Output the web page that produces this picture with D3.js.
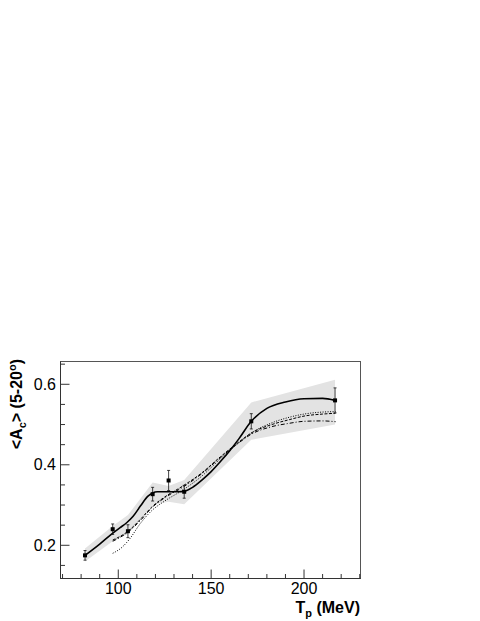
<!DOCTYPE html>
<html><head><meta charset="utf-8">
<script src="https://cdn.jsdelivr.net/npm/d3@7"></script>
<style>body{margin:0;background:#fff}svg{display:block}text{font-family:"Liberation Sans",Arial,sans-serif}</style>
</head><body><svg id="c" width="480" height="621"></svg>
<script>
// Data points
const dataT = [82.1, 97.0, 105.2, 118.5, 127.1, 135.5, 171.6, 216.7];
const dataA = [0.175, 0.240, 0.235, 0.327, 0.361, 0.333, 0.508, 0.560];
const dataErr = [0.012, 0.013, 0.016, 0.017, 0.025, 0.016, 0.019, 0.031];
// Gray band
const bandT = [82.1, 97.0, 105.2, 118.5, 127.1, 135.5, 171.6, 216.7];
const bandLo = [0.160, 0.210, 0.228, 0.301, 0.308, 0.302, 0.462, 0.500];
const bandHi = [0.192, 0.248, 0.275, 0.356, 0.347, 0.362, 0.555, 0.611];
// Solid curve
const solidT = [82.1, 90, 96.4, 101, 104.5, 108, 112, 116, 118.5, 121, 127, 132, 135.5, 140, 145, 150, 155, 160, 165, 171.6, 180, 190, 200, 210, 216.7];
const solidA = [0.175, 0.203, 0.228, 0.244, 0.256, 0.272, 0.298, 0.322, 0.330, 0.333, 0.333, 0.333, 0.334, 0.344, 0.362, 0.383, 0.408, 0.435, 0.465, 0.508, 0.540, 0.556, 0.564, 0.565, 0.560];
// Dashed curve
const dashT = [97, 105, 112, 118, 125, 135, 145, 155, 165, 172, 182, 192, 200, 210, 217];
const dashA = [0.213, 0.234, 0.265, 0.295, 0.320, 0.348, 0.380, 0.420, 0.457, 0.480, 0.499, 0.512, 0.521, 0.526, 0.528];
// Dash-dot curve
const ddT = [97, 105, 112, 118, 125, 135, 145, 155, 165, 172, 182, 192, 200, 210, 217];
const ddA = [0.210, 0.232, 0.262, 0.293, 0.318, 0.345, 0.378, 0.418, 0.455, 0.477, 0.494, 0.503, 0.508, 0.509, 0.507];
// Dotted curve
const dotT = [97, 102, 106, 112, 118, 125, 135, 145, 155, 165, 172, 182, 192, 200, 210, 217];
const dotA = [0.180, 0.195, 0.215, 0.255, 0.286, 0.310, 0.338, 0.372, 0.415, 0.455, 0.480, 0.503, 0.518, 0.526, 0.531, 0.532];
// Ticks
const xMajor = [100, 150, 200];
const xMinor = [70, 80, 90, 110, 120, 130, 140, 160, 170, 180, 190, 210, 220, 230];
const yMajor = [0.2, 0.4, 0.6];
const yMinor = [0.15, 0.25, 0.3, 0.35, 0.45, 0.5, 0.55, 0.65];

const svg = d3.select('#c');
const x = d3.scaleLinear().domain([68.9, 230.4]).range([60.5, 360.5]);
const y = d3.scaleLinear().domain([0.1175, 0.6566]).range([578.5, 361.5]);

// band
const band = bandT.map((t,i)=>({t, lo: bandLo[i], hi: bandHi[i]}));
svg.append('path').datum(band)
  .attr('d', d3.area().x(d=>x(d.t)).y0(d=>y(d.lo)).y1(d=>y(d.hi)))
  .attr('fill', '#e3e3e3');

const line = d3.line().x(d=>x(d[0])).y(d=>y(d[1])).curve(d3.curveMonotoneX);
function drawCurve(T, A, w, dash){
  svg.append('path').datum(T.map((t,i)=>[t, A[i]]))
    .attr('d', line).attr('fill','none').attr('stroke','#000')
    .attr('stroke-width', w).attr('stroke-dasharray', dash);
}
drawCurve(dotT, dotA, 1, '1,1.5');
drawCurve(ddT, ddA, 1, '4,2,1,2');
drawCurve(dashT, dashA, 1, '3,1.5');
drawCurve(solidT, solidA, 1.6, null);

// data
const pts = dataT.map((t,i)=>({t, a: dataA[i], e: dataErr[i]}));
const g = svg.append('g');
pts.forEach(p=>{
  const cx = x(p.t);
  g.append('line').attr('x1',cx).attr('x2',cx).attr('y1',y(p.a-p.e)).attr('y2',y(p.a+p.e)).attr('stroke','#111').attr('stroke-width',0.8);
  [p.a-p.e, p.a+p.e].forEach(v=>g.append('line').attr('x1',cx-1.5).attr('x2',cx+1.5).attr('y1',y(v)).attr('y2',y(v)).attr('stroke','#111').attr('stroke-width',0.8));
  g.append('rect').attr('x',cx-2).attr('y',y(p.a)-2).attr('width',4).attr('height',4).attr('fill','#000');
});

// frame
const [x0,x1] = x.range(), [y0,y1] = y.range();
svg.append('rect').attr('x',x0).attr('y',y1).attr('width',x1-x0).attr('height',y0-y1)
  .attr('fill','none').attr('stroke','#555').attr('stroke-width',1);
svg.append('line').attr('x1',x0).attr('x2',x0).attr('y1',y1).attr('y2',y0).attr('stroke','#333');
svg.append('line').attr('x1',x0).attr('x2',x1).attr('y1',y0).attr('y2',y0).attr('stroke','#333');

// ticks
const tk = svg.append('g').attr('stroke','#333').attr('stroke-width',1);
xMajor.forEach(v=>tk.append('line').attr('x1',x(v)).attr('x2',x(v)).attr('y1',y0).attr('y2',y0-9));
xMinor.forEach(v=>tk.append('line').attr('x1',x(v)).attr('x2',x(v)).attr('y1',y0).attr('y2',y0-4.5));
yMajor.forEach(v=>tk.append('line').attr('y1',y(v)).attr('y2',y(v)).attr('x1',x0).attr('x2',x0+9));
yMinor.forEach(v=>tk.append('line').attr('y1',y(v)).attr('y2',y(v)).attr('x1',x0).attr('x2',x0+4.5));

// tick labels
xMajor.forEach(v=>svg.append('text').attr('x',x(v)).attr('y',594).attr('text-anchor','middle')
  .attr('font-size',16).text(v));
yMajor.forEach(v=>svg.append('text').attr('x',56).attr('y',y(v)+5.5).attr('text-anchor','end')
  .attr('font-size',16).text(v.toFixed(1)));

// axis titles
const xt = svg.append('text').attr('x',360).attr('y',613).attr('text-anchor','end')
  .attr('font-size',16).attr('font-weight','bold');
xt.append('tspan').text('T');
xt.append('tspan').attr('font-size',11).attr('dy',3.5).text('p');
xt.append('tspan').attr('dy',-3.5).text(' (MeV)');

const yt = svg.append('text').attr('transform','translate(22,359) rotate(-90)').attr('text-anchor','end')
  .attr('font-size',16).attr('font-weight','bold');
yt.append('tspan').text('<A');
yt.append('tspan').attr('font-size',11).attr('dy',4).text('c');
yt.append('tspan').attr('dy',-4).text('> (5-20');
yt.append('tspan').attr('font-size',11).attr('dy',-6).text('o');
yt.append('tspan').attr('dy',6).text(')');
</script></body></html>
